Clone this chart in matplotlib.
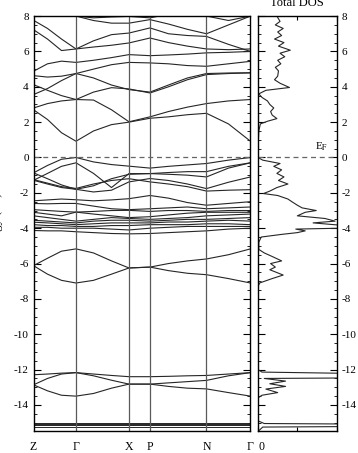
import matplotlib
matplotlib.use("Agg")
import matplotlib.pyplot as plt
from matplotlib.ticker import MultipleLocator

plt.rcParams["font.family"] = ["Liberation Serif", "DejaVu Serif"]
plt.rcParams["axes.unicode_minus"] = False
plt.rcParams["mathtext.fontset"] = "stix"

# k-path (distance along path) and labels
k_nodes = [0, 42.5, 95.5, 116.5, 173, 217]
k_labels = ["Z", "Γ", "X", "P", "N", "Γ"]
k_grid = [0, 14, 28, 42.5, 60, 78, 95.5, 116.5, 135, 154, 173, 195, 217]

# band energies (eV) read at k_grid
bands = [
    # conduction
    [2.7, 2.15, 1.4, 0.92, 1.5, 1.86, 2.0, 2.22, 2.3, 2.42, 2.5, 1.9, 0.92],
    [2.8, 3.05, 3.2, 3.28, 3.25, 2.7, 2.02, 2.3, 2.6, 2.85, 3.05, 3.2, 3.28],
    [3.56, 3.9, 4.35, 4.75, 5.0, 5.25, 5.38, 5.35, 5.3, 5.2, 5.16, 5.3, 5.44],
    [4.12, 3.8, 3.5, 3.28, 3.7, 3.95, 3.88, 3.65, 4.0, 4.4, 4.69, 4.75, 4.79],
    [4.63, 4.55, 4.6, 4.75, 4.5, 4.1, 3.84, 3.7, 4.1, 4.5, 4.75, 4.78, 4.79],
    [4.88, 5.3, 5.45, 5.38, 5.5, 5.65, 5.82, 5.76, 5.8, 5.85, 5.92, 5.95, 6.0],
    [7.23, 6.7, 6.05, 6.14, 6.25, 6.35, 6.48, 6.76, 6.5, 6.3, 6.14, 6.1, 6.14],
    [7.76, 7.3, 6.7, 6.14, 6.6, 6.95, 7.04, 7.33, 7.0, 6.9, 6.85, 6.4, 6.0],
    [8.3, 8.2, 8.1, 8.0, 7.75, 7.6, 7.6, 7.8, 7.55, 7.25, 7.0, 7.5, 8.0],
    [8.4, 8.5, 8.3, 8.0, 7.9, 7.95, 7.98, 7.9, 8.1, 8.3, 8.0, 7.75, 8.0],
    # valence
    [-0.87, -0.45, -0.1, 0.0, -0.25, -0.4, -0.49, -0.6, -0.5, -0.42, -0.34, -0.15, 0.0],
    [-1.29, -0.9, -0.5, -0.3, -0.9, -1.7, -0.91, -0.91, -0.85, -0.8, -0.8, -0.5, -0.3],
    [-0.87, -1.2, -1.55, -1.8, -1.6, -1.2, -0.95, -0.91, -0.95, -1.0, -1.1, -0.6, -0.3],
    [-1.29, -1.5, -1.7, -1.8, -1.95, -1.85, -1.38, -1.19, -1.3, -1.5, -1.76, -1.4, -1.1],
    [-1.25, -1.45, -1.65, -1.75, -1.5, -1.3, -1.2, -1.38, -1.5, -1.65, -1.9, -1.85, -1.82],
    [-2.45, -2.4, -2.35, -2.39, -2.45, -2.4, -2.33, -2.15, -2.3, -2.55, -2.7, -2.6, -2.5],
    [-2.6, -2.62, -2.6, -2.6, -2.75, -2.9, -2.95, -2.9, -2.85, -2.8, -2.9, -2.85, -2.8],
    [-2.95, -3.0, -3.05, -3.09, -3.05, -3.0, -2.99, -3.05, -3.0, -3.0, -3.05, -3.0, -3.0],
    [-3.1, -3.2, -3.3, -3.09, -3.2, -3.3, -3.4, -3.35, -3.25, -3.15, -3.1, -3.1, -3.1],
    [-3.3, -3.4, -3.5, -3.6, -3.5, -3.4, -3.45, -3.5, -3.45, -3.4, -3.3, -3.25, -3.2],
    [-3.55, -3.6, -3.65, -3.7, -3.6, -3.55, -3.55, -3.6, -3.55, -3.5, -3.5, -3.45, -3.4],
    [-3.66, -3.7, -3.75, -3.8, -3.75, -3.7, -3.7, -3.7, -3.65, -3.65, -3.6, -3.55, -3.6],
    [-3.8, -3.85, -3.85, -3.9, -3.9, -3.85, -3.85, -3.8, -3.8, -3.8, -3.75, -3.75, -3.8],
    [-3.95, -3.95, -4.0, -4.0, -4.0, -4.05, -4.1, -4.0, -3.95, -3.9, -3.9, -3.9, -3.9],
    [-4.13, -4.15, -4.15, -4.2, -4.25, -4.3, -4.32, -4.3, -4.25, -4.2, -4.15, -4.05, -4.0],
    [-6.12, -5.7, -5.3, -5.17, -5.4, -5.85, -6.25, -6.2, -6.0, -5.85, -5.74, -5.5, -5.17],
    [-6.12, -6.6, -6.95, -7.1, -6.95, -6.6, -6.25, -6.2, -6.4, -6.55, -6.63, -6.85, -7.1],
    [-12.29, -12.25, -12.2, -12.17, -12.25, -12.33, -12.4, -12.4, -12.38, -12.35, -12.33, -12.25, -12.17],
    [-12.86, -12.5, -12.25, -12.17, -12.35, -12.6, -12.82, -12.82, -12.75, -12.68, -12.61, -12.35, -12.17],
    [-12.86, -13.2, -13.45, -13.5, -13.35, -13.05, -12.82, -12.82, -12.95, -13.05, -13.09, -13.3, -13.5],
]

# semicore levels: flat bands near -15 eV
semicore = [
    [-15.0, -15.0, -15.0, -15.0, -15.0, -15.0, -15.0, -15.0, -15.0, -15.0, -15.0, -15.0, -15.0],
    [-15.08, -15.08, -15.08, -15.08, -15.08, -15.08, -15.08, -15.08, -15.08, -15.08, -15.08, -15.08, -15.08],
    [-15.15, -15.15, -15.15, -15.15, -15.15, -15.15, -15.15, -15.15, -15.15, -15.15, -15.15, -15.15, -15.15],
    [-15.24, -15.24, -15.24, -15.24, -15.24, -15.24, -15.24, -15.24, -15.24, -15.24, -15.24, -15.24, -15.24],
]

# total DOS (arbitrary units) read along energy
dos_energy = [8.0, 7.7, 7.5, 7.3, 7.1, 6.9, 6.7, 6.5, 6.3, 6.07, 5.9, 5.7, 5.5, 5.3, 5.1,
              4.9, 4.6, 4.4, 4.2, 3.96, 3.8, 3.6, 3.4, 3.2, 3.0, 2.8, 2.6, 2.4, 2.2, 2.05,
              1.9, 1.5, 1.0, 0.5, 0.0, -0.15, -0.34, -0.5, -0.7, -0.9, -1.1, -1.3, -1.5,
              -1.7, -1.9, -2.04, -2.15, -2.35, -2.5, -2.7, -2.85, -3.0, -3.1, -3.3, -3.45,
              -3.6, -3.7, -3.85, -3.97, -4.05, -4.15, -4.25, -4.35, -4.5, -4.8, -5.2, -5.4,
              -5.6, -5.85, -6.0, -6.2, -6.35, -6.65, -6.85, -7.1, -7.3, -12.0, -12.14,
              -12.4, -12.5, -12.65, -12.8, -12.95, -13.1, -13.3, -13.45, -13.6, -14.9,
              -15.05, -15.15, -15.25, -15.5]
dos_value = [2.4, 2.8, 2.2, 3.2, 2.5, 3.0, 2.1, 3.3, 2.6, 4.1, 2.8, 3.4, 2.5, 2.9, 2.2,
             2.6, 2.5, 2.1, 2.8, 4.0, 1.0, 0.1, 0.5, 1.2, 1.5, 2.0, 1.6, 1.8, 2.4, 1.2,
             0.3, 0.1, 0.05, 0.0, 0.0, 0.6, 2.8, 2.0, 3.0, 2.4, 3.3, 2.6, 3.8,
             2.4, 1.5, 0.7, 2.5, 3.8, 4.3, 5.0, 5.6, 7.4, 6.0, 5.0, 8.5,
             9.8, 7.0, 11.0, 14.0, 4.8, 6.0, 5.0, 3.0, 0.4, 0.1, 0.1, 0.8,
             1.8, 3.0, 1.6, 2.2, 1.5, 3.2, 1.8, 0.2, 0.0, 0.0, 0.5,
             40.0, 0.8, 3.5, 1.5, 3.5, 1.0, 2.5, 0.5, 0.0, 0.0,
             0.8, 40.0, 0.6, 0.0]

fig = plt.figure(figsize=(3.58, 4.53), dpi=100)
ax = fig.add_axes([0.0936, 0.0475, 0.606, 0.917])
ax2 = fig.add_axes([0.7207, 0.0475, 0.2198, 0.917])

line_c = "0.15"
for b in bands:
    ax.plot(k_grid, b, color=line_c, lw=0.8)
for b in semicore:
    ax.plot(k_grid, b, color=line_c, lw=0.7)
for k in k_nodes[1:-1]:
    ax.axvline(k, color="0.35", lw=0.9)
ax.axhline(0, color="0.4", lw=0.9, ls=(0, (4, 3)))

ax.set_xlim(k_nodes[0], k_nodes[-1])
ax.set_ylim(-15.5, 8)
ax.set_xticks(k_nodes)
ax.set_xticklabels(k_labels, fontsize=8.5)
ax.tick_params(axis="x", length=0, pad=7)
ax.yaxis.set_major_locator(MultipleLocator(2))
ax.yaxis.set_minor_locator(MultipleLocator(0.5))
ax.tick_params(axis="y", which="both", direction="in", left=True, right=True,
               labelsize=8)
ax.tick_params(axis="y", which="major", length=5)
ax.tick_params(axis="y", which="minor", length=2.5)
ax.set_ylabel("Energy (eV)", fontsize=9)
ax.yaxis.set_label_coords(-0.14, 0.5)

ax2.plot(dos_value, dos_energy, color=line_c, lw=0.8)
ax2.axhline(0, color="0.4", lw=0.9, ls=(0, (4, 3)))
ax2.set_xlim(0, 10)
ax2.set_ylim(-15.5, 8)
ax2.set_xticks([0, 5, 10])
ax2.set_xticklabels(["0", "", ""], fontsize=8.5)
ax2.tick_params(axis="x", direction="in", top=True, bottom=True, length=3, pad=7)
ax2.yaxis.set_major_locator(MultipleLocator(2))
ax2.yaxis.set_minor_locator(MultipleLocator(0.5))
ax2.tick_params(axis="y", which="both", direction="in", left=True, right=True,
                labelleft=False, labelright=True, labelsize=8)
ax2.tick_params(axis="y", which="major", length=5)
ax2.tick_params(axis="y", which="minor", length=2.5)
ax2.set_title("Total DOS", fontsize=9, pad=7)
ax2.text(8.1, 0.6, r"E$_\mathrm{F}$", fontsize=8, ha="center", va="center")
# x tick label "0" sits left-aligned at the axis origin
for lbl in ax2.get_xticklabels():
    lbl.set_horizontalalignment("left")

for a in (ax, ax2):
    for s in a.spines.values():
        s.set_linewidth(1.0)

fig.savefig("out.png", dpi=100)
